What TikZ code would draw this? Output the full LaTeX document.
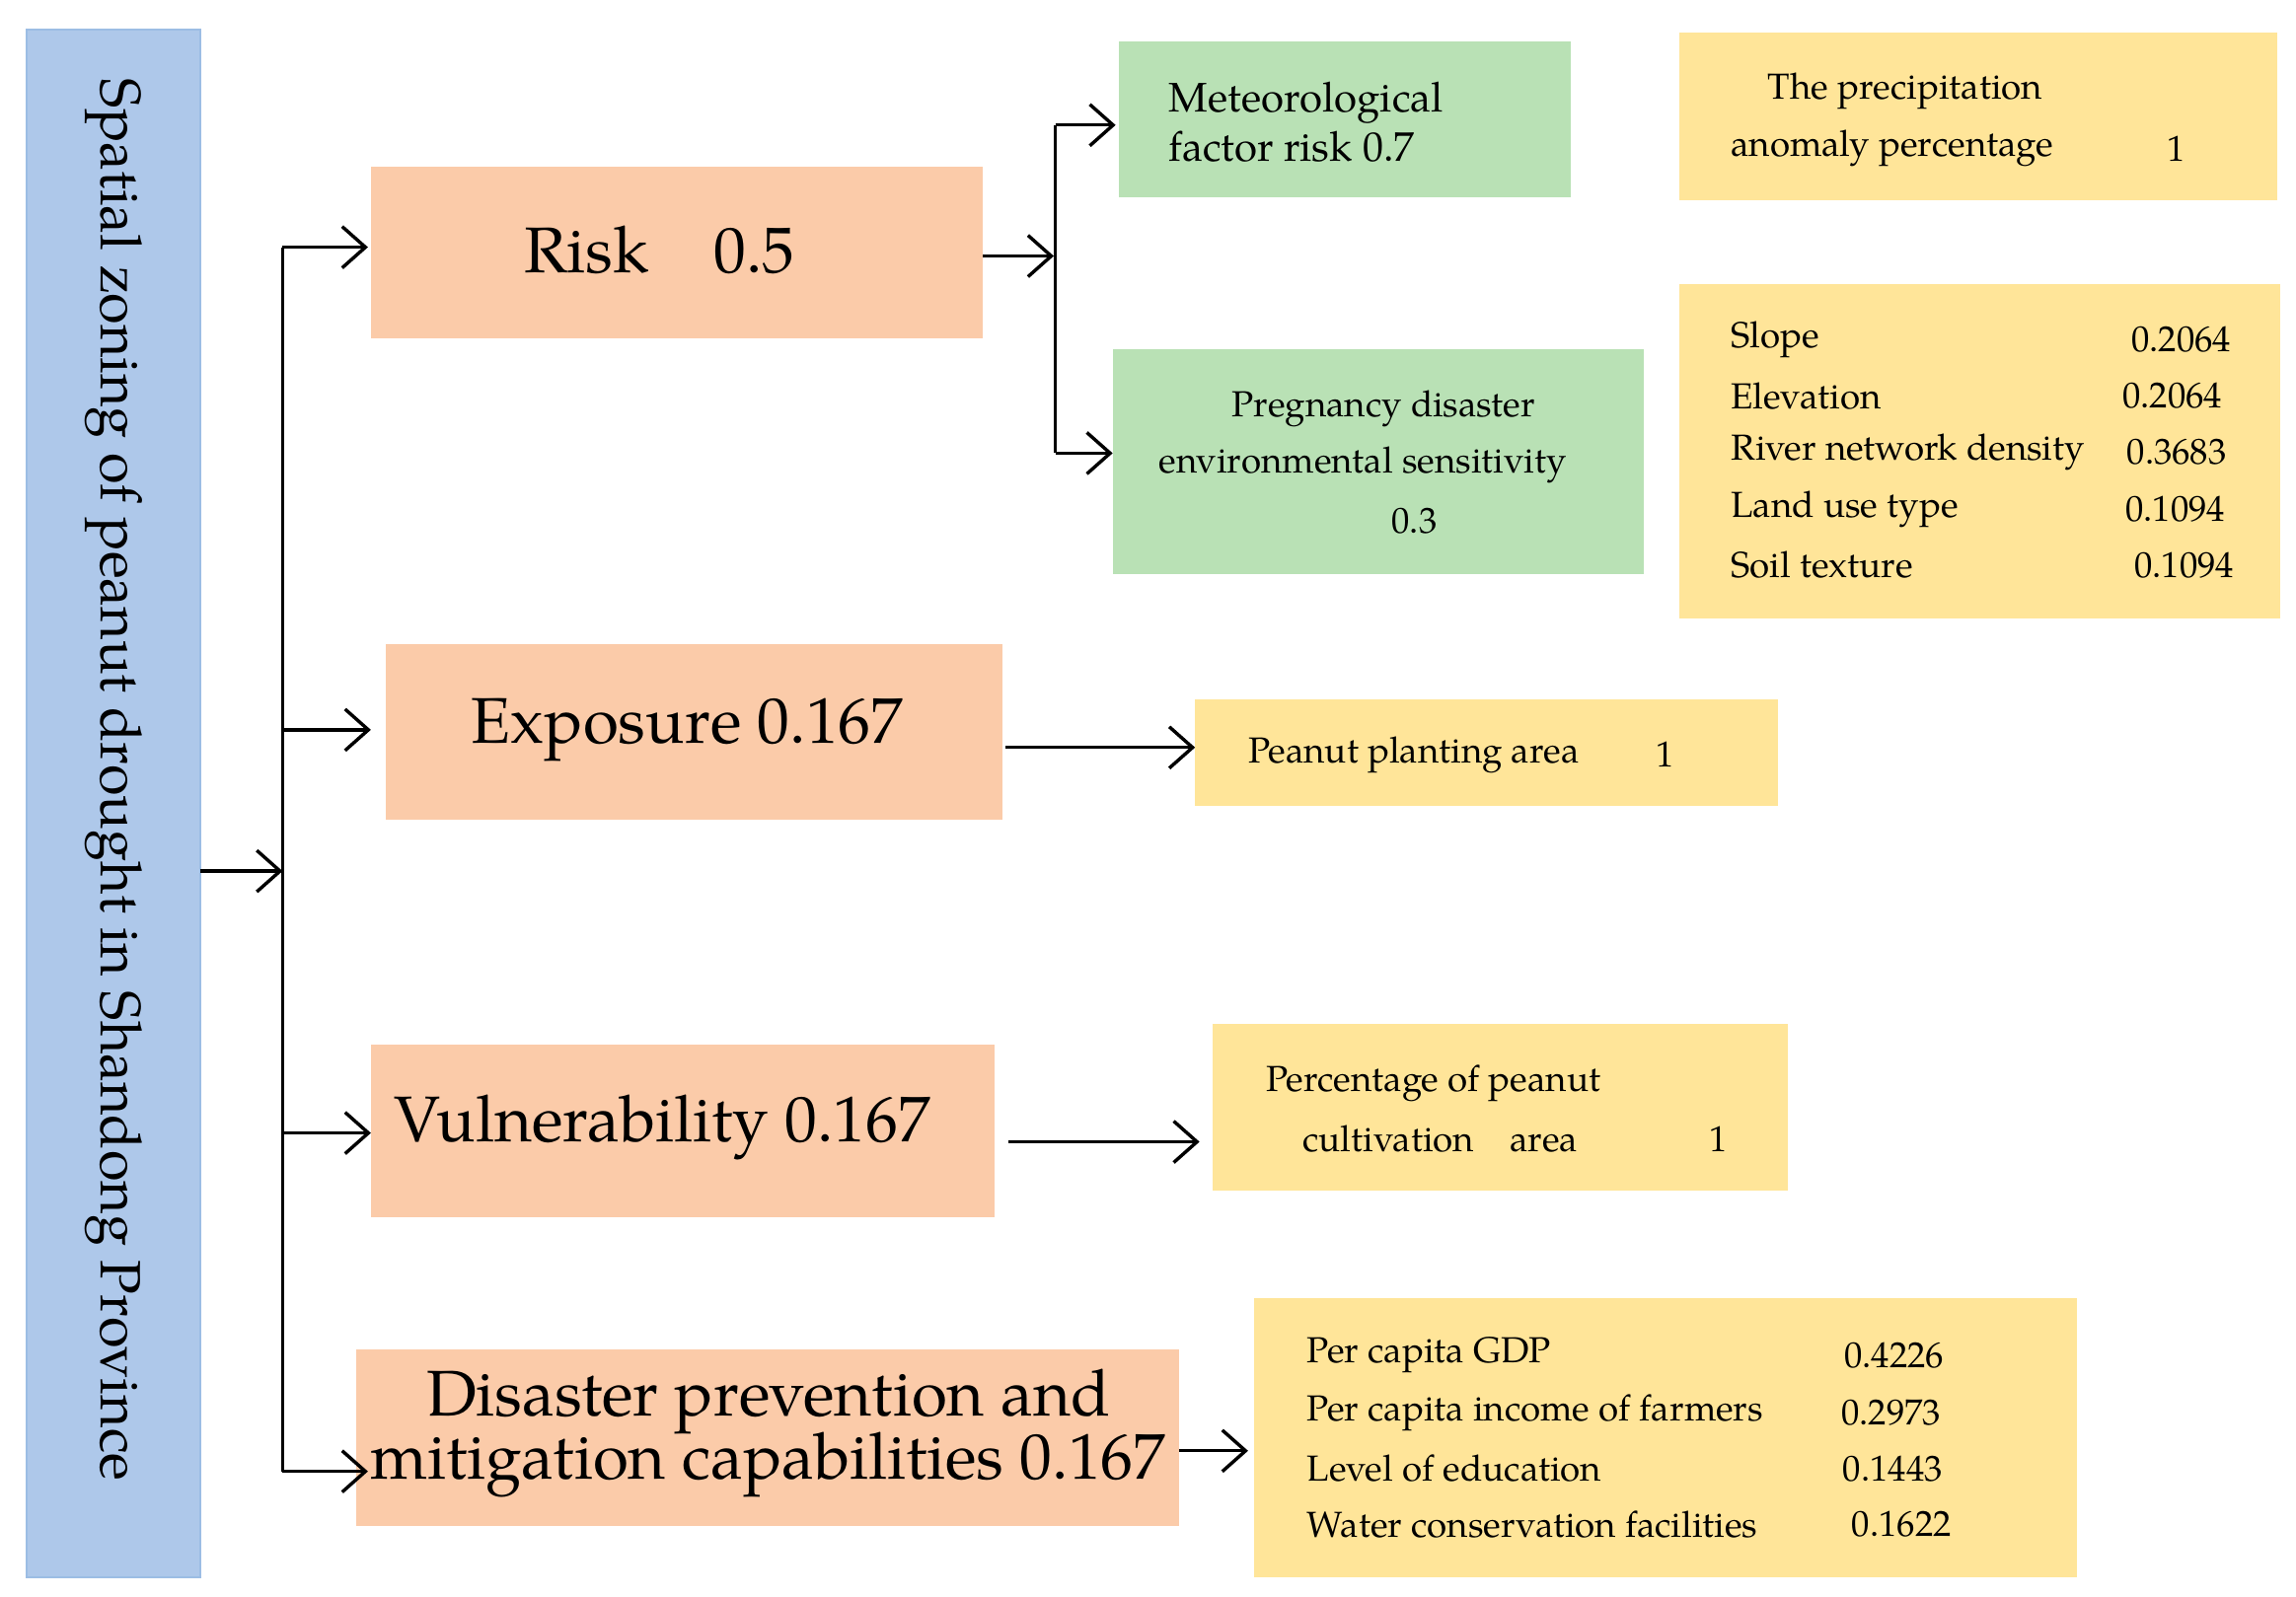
\documentclass[tikz,border=0pt]{standalone}
\usepackage{fontspec}
\setmainfont{TeX Gyre Pagella}
\usetikzlibrary{arrows.meta}
\definecolor{bl}{HTML}{AEC8EA}
\definecolor{blb}{HTML}{9CBDE4}
\definecolor{sal}{HTML}{FBCBA9}
\definecolor{grn}{HTML}{B9E1B5}
\definecolor{yel}{HTML}{FFE599}
\begin{document}
\begin{tikzpicture}[x=0.02cm,y=-0.02cm,
 box/.style={draw=none,inner sep=0},
 arr/.style={-{Straight Barb[length=9pt,width=16pt]},line width=1.3pt},
 ln/.style={line width=1.3pt},
 big/.style={font=\fontsize{25}{25}\selectfont},
 sm/.style={font=\fontsize{14}{14}\selectfont,anchor=west},
 md/.style={font=\fontsize{16}{16}\selectfont}]
\useasboundingbox (0,0) rectangle (1560,1085);
% boxes
\fill[bl,draw=blb,line width=1pt] (18,20) rectangle (136,1072);
\node[rotate=-90,font=\fontsize{22}{22}\selectfont] (root) at (77,530) {Spatial zoning of peanut drought in Shandong Province};
\coordinate (rootE) at (136,592);
\fill[sal] (252,113) rectangle (668,230); \node[big] (risk) at (448,170) {Risk\quad 0.5};
\fill[sal] (262,438) rectangle (681,557); \node[big] (exp) at (467,496) {Exposure 0.167};
\fill[sal] (252,710) rectangle (676,827); \node[big] (vul) at (450,766) {Vulnerability 0.167};
\fill[sal] (242,917) rectangle (801,1037);
\node[big,align=center] (dis) at (522,974) {Disaster prevention and\\[-2pt]mitigation capabilities 0.167};
\fill[grn] (760,28) rectangle (1067,134);
\node[md,anchor=west,align=left] (met) at (788,83) {Meteorological\\[2pt]factor risk 0.7};
\fill[grn] (756,237) rectangle (1117,390);
\node[font=\fontsize{14}{14}\selectfont] at (940,278) {Pregnancy disaster};
\node[font=\fontsize{14}{14}\selectfont] at (926,316) {environmental sensitivity};
\node[font=\fontsize{14}{14}\selectfont] at (961,354) {0.3};
\fill[yel] (1141,22) rectangle (1547,136);
\node[sm] at (1195,62) {The precipitation};
\node[sm] at (1170,101) {anomaly percentage};
\node[sm] at (1466,101) {1};
\fill[yel] (1141,193) rectangle (1549,420);
\foreach \t/\v/\y/\x in {Slope/0.2064/231/1442,Elevation/0.2064/269/1436,River network density/0.3683/307/1439,Land use type/0.1094/346/1438,Soil texture/0.1094/384/1444}
 {\node[sm] at (1170,\y) {\t}; \node[sm] at (\x,\y) {\v};}
\fill[yel] (812,475) rectangle (1208,548);
\node[sm] at (842,513) {Peanut planting area}; \node[sm] at (1119,513) {1};
\fill[yel] (824,696) rectangle (1215,809);
\node[sm] at (854,736) {Percentage of peanut};
\node[sm] at (879,774) {cultivation\quad area}; \node[sm] at (1155,774) {1};
\fill[yel] (852,882) rectangle (1411,1072);
\foreach \t/\v/\y/\x in {Per capita GDP/0.4226/921/1247,Per capita income of farmers/0.2973/960/1245,Level of education/0.1443/998/1246,Water conservation facilities/0.1622/1036/1252}
 {\node[sm] at (882,\y) {\t}; \node[sm] at (\x,\y) {\v};}
% connectors
\coordinate (t) at (192,592);
\draw[arr] (rootE) -- (t);
\draw[ln] (192,168) -- (192,1000);
\draw[arr] (192,168) -- (250,168);
\draw[arr] (192,496) -- (252,496);
\draw[arr] (192,770) -- (252,770);
\draw[arr] (192,1000) -- (250,1000);
\draw[arr] (668,174) -- (716,174);
\draw[ln] (717,85) -- (717,308);
\draw[arr] (717,85) -- (758,85);
\draw[arr] (717,308) -- (756,308);
\draw[arr] (683,508) -- (812,508);
\draw[arr] (685,776) -- (815,776);
\draw[arr] (801,986) -- (848,986);
\end{tikzpicture}
\end{document}
